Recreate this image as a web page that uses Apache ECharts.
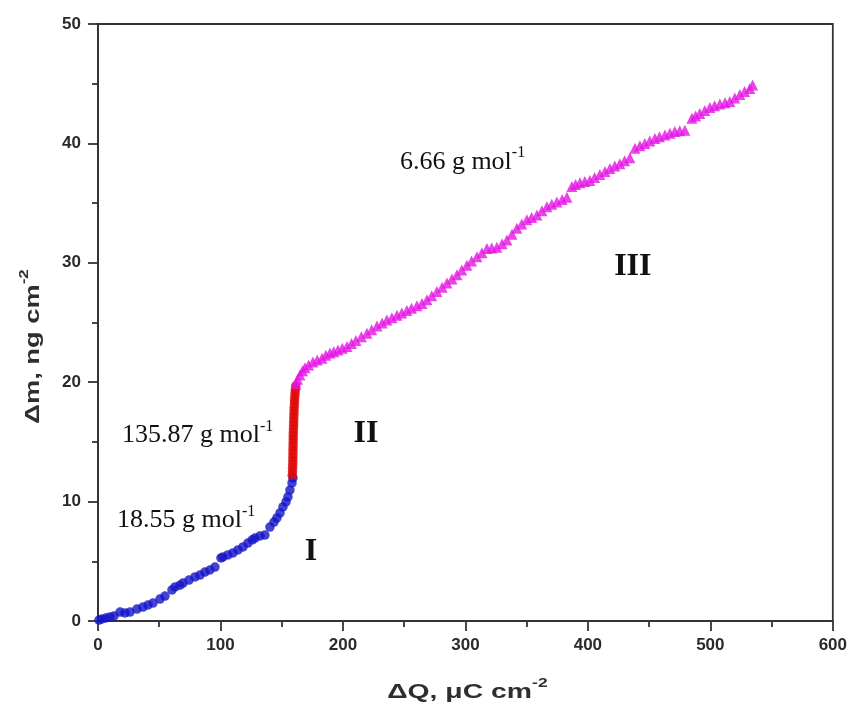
<!DOCTYPE html>
<html>
<head>
<meta charset="utf-8">
<script src="https://cdn.jsdelivr.net/npm/echarts@6/dist/echarts.min.js"></script>
<style>
  html, body { margin: 0; padding: 0; background: #fff; }
  #chart { width: 850px; height: 719px; }
</style>
</head>
<body>
<div id="chart"></div>
<script>
// Region I: slow mass growth (blue circles) — [ΔQ, Δm]
const regionI = [
  [0.8, 0.08], [3.3, 0.17], [6.5, 0.25], [9.8, 0.34], [13.1, 0.42], [18.0, 0.75],
  [22.0, 0.67], [26.1, 0.75], [31.8, 1.0], [36.7, 1.17], [40.8, 1.34], [44.9, 1.5],
  [50.6, 1.84], [54.7, 2.09], [60.4, 2.6], [62.9, 2.85], [66.9, 3.0], [69.4, 3.18],
  [74.3, 3.43], [79.2, 3.69], [83.3, 3.85], [87.3, 4.1], [91.4, 4.27], [95.5, 4.52],
  [100.4, 5.28], [102.0, 5.36], [106.1, 5.53], [110.2, 5.7], [114.3, 5.95], [118.4, 6.2],
  [122.4, 6.53], [126.0, 6.8], [128.2, 6.95], [132.2, 7.12], [136.3, 7.2], [140.4, 7.87],
  [143.7, 8.29], [146.1, 8.63], [148.6, 9.05], [151.0, 9.55], [153.5, 9.97], [155.1, 10.4],
  [156.7, 10.97], [158.4, 11.56], [159.2, 11.98]
];

// Region II: steep step (red circles)
const regionII = [
  [158.6, 12.2], [158.8, 12.5], [158.9, 12.8], [159.0, 13.1], [159.1, 13.4], [159.1, 13.7],
  [159.2, 14.0], [159.2, 14.3], [159.3, 14.6], [159.3, 14.9], [159.4, 15.2], [159.4, 15.5],
  [159.5, 15.8], [159.6, 16.1], [159.7, 16.4], [159.8, 16.7], [159.9, 17.0], [160.0, 17.3],
  [160.1, 17.6], [160.2, 17.9], [160.4, 18.2], [160.5, 18.5], [160.7, 18.8], [160.9, 19.1],
  [161.2, 19.4], [161.5, 19.7]
];

// Region III: linear growth (magenta triangles)
const regionIII = [
  [161.6, 19.85], [163.0, 20.25], [164.9, 20.6], [167.0, 20.95], [169.0, 21.2], [172.0, 21.45],
  [175.5, 21.7], [179.0, 21.85], [182.9, 22.0], [186.0, 22.25], [189.4, 22.45], [192.5, 22.55],
  [195.9, 22.7], [199.5, 22.85], [203.3, 23.0], [207.0, 23.25], [210.6, 23.5], [215.0, 23.8],
  [219.6, 24.1], [223.5, 24.4], [227.8, 24.7], [232.0, 24.95], [235.9, 25.2], [240.0, 25.4],
  [244.1, 25.6], [248.0, 25.8], [252.2, 26.0], [256.0, 26.2], [260.4, 26.4], [264.5, 26.6],
  [268.6, 26.9], [272.5, 27.25], [276.7, 27.6], [281.0, 27.95], [284.9, 28.3], [289.0, 28.65],
  [293.1, 29.0], [297.0, 29.4], [301.2, 29.8], [305.0, 30.15], [309.4, 30.5], [313.5, 30.85],
  [317.6, 31.2], [321.5, 31.25], [325.7, 31.3], [330.0, 31.6], [333.9, 31.9], [338.0, 32.4],
  [342.0, 32.9], [346.0, 33.25], [350.2, 33.6], [354.0, 33.8], [358.4, 34.0], [362.5, 34.35],
  [366.5, 34.7], [370.5, 34.9], [374.7, 35.1], [379.0, 35.3], [382.9, 35.5], [386.9, 36.4],
  [390.0, 36.55], [393.5, 36.7], [397.5, 36.8], [401.6, 36.9], [405.5, 37.15], [409.8, 37.4],
  [414.0, 37.65], [418.0, 37.9], [422.0, 38.1], [426.1, 38.3], [430.0, 38.55], [434.3, 38.8],
  [438.4, 39.6], [442.5, 39.8], [446.5, 40.0], [450.5, 40.2], [454.7, 40.4], [458.5, 40.55],
  [462.9, 40.7], [467.0, 40.85], [471.0, 41.0], [475.0, 41.05], [479.2, 41.1], [484.9, 42.1],
  [488.0, 42.3], [491.4, 42.5], [495.5, 42.75], [499.6, 43.0], [503.5, 43.15], [507.8, 43.3],
  [512.0, 43.4], [515.9, 43.5], [520.0, 43.8], [524.1, 44.1], [528.0, 44.35], [532.2, 44.6],
  [534.5, 44.9]
];

// Axis ticks
const xTicks = [0, 100, 200, 300, 400, 500, 600];
const yTicks = [0, 10, 20, 30, 40, 50];

// Molar-mass annotations: [text, superscript, ΔQ, Δm] (left-anchored)
const massNotes = [
  ['18.55 g mol', '-1', 15.5, 8.6],
  ['135.87 g mol', '-1', 19.6, 15.7],
  ['6.66 g mol', '-1', 246.5, 38.6]
];
// Region labels: [text, ΔQ, Δm] (centred)
const regionNotes = [
  ['I', 173.9, 5.8],
  ['II', 218.8, 15.7],
  ['III', 436.7, 29.7]
];

const chart = echarts.init(document.getElementById('chart'), null, { renderer: 'canvas' });

const axisColor = '#333';
const sans = 'Liberation Sans, Arial, sans-serif';
const serif = 'Liberation Serif, Times New Roman, serif';
const labelFont = { color: '#2a2a2a', fontFamily: sans, fontWeight: 'bold', fontSize: 17 };

const option = {
  backgroundColor: '#fff',
  animation: false,
  grid: {
    left: 98, right: 17, top: 24, bottom: 98,
    show: true, borderColor: axisColor, borderWidth: 1.8, backgroundColor: 'transparent'
  },
  xAxis: {
    type: 'value',
    min: xTicks[0], max: xTicks[xTicks.length - 1], interval: 100,
    axisLine: { show: true, onZero: false, lineStyle: { color: axisColor, width: 1.8 } },
    axisTick: { show: true, inside: false, length: 10, lineStyle: { color: axisColor, width: 1.8 } },
    minorTick: { show: true, splitNumber: 2, length: 6, lineStyle: { color: axisColor, width: 1.8 } },
    splitLine: { show: false },
    axisLabel: Object.assign({ margin: 16 }, labelFont)
  },
  yAxis: {
    type: 'value',
    min: yTicks[0], max: yTicks[yTicks.length - 1], interval: 10,
    axisLine: { show: true, onZero: false, lineStyle: { color: axisColor, width: 1.8 } },
    axisTick: { show: true, inside: false, length: 10, lineStyle: { color: axisColor, width: 1.8 } },
    minorTick: { show: true, splitNumber: 2, length: 6, lineStyle: { color: axisColor, width: 1.8 } },
    splitLine: { show: false },
    axisLabel: Object.assign({ margin: 17 }, labelFont)
  },
  series: [
    {
      name: 'I', type: 'scatter', data: regionI,
      symbol: 'circle', symbolSize: 9.5,
      itemStyle: { color: '#1414c8' }
    },
    {
      name: 'II', type: 'scatter', data: regionII,
      symbol: 'circle', symbolSize: 9.5,
      itemStyle: { color: '#e00808' }
    },
    {
      name: 'III', type: 'scatter', data: regionIII,
      symbol: 'triangle', symbolSize: 11,
      itemStyle: { color: '#e414e4' }
    }
  ]
};

chart.setOption(option);

const px = (q, m) => chart.convertToPixel({ gridIndex: 0 }, [q, m]);

const titleRich = {
  n: { fontFamily: sans, fontWeight: 'bold', fontSize: 21, fill: '#2e2e2e', lineHeight: 26, verticalAlign: 'bottom' },
  s: { fontFamily: sans, fontWeight: 'bold', fontSize: 13, fill: '#2e2e2e', lineHeight: 26, verticalAlign: 'top' }
};

const graphics = [];

// Axis titles, placed relative to the plotting area
const xMid = px(300, 0);
graphics.push({
  type: 'text', x: xMid[0] + 2, y: xMid[1] + 69, scaleX: 1.35,
  style: { text: '{n|ΔQ, μC cm}{s|-2}', align: 'center', verticalAlign: 'middle', rich: titleRich }
});
const yMid = px(0, 25);
graphics.push({
  type: 'text', x: yMid[0] - 67, y: yMid[1] + 24, rotation: Math.PI / 2, scaleX: 1.3,
  style: { text: '{n|Δm, ng cm}{s|-2}', align: 'center', verticalAlign: 'middle', rich: titleRich }
});

massNotes.forEach(([txt, sup, q, m]) => {
  const p = px(q, m);
  graphics.push({
    type: 'text', x: p[0], y: p[1], z: 10,
    style: {
      text: '{t|' + txt + '}{s|' + sup + '}',
      verticalAlign: 'middle',
      rich: {
        t: { fontFamily: serif, fontSize: 26, fill: '#111', lineHeight: 30, verticalAlign: 'bottom' },
        s: { fontFamily: serif, fontSize: 16, fill: '#111', lineHeight: 30, verticalAlign: 'top' }
      }
    }
  });
});

regionNotes.forEach(([txt, q, m]) => {
  const p = px(q, m);
  graphics.push({
    type: 'text', x: p[0], y: p[1], z: 10,
    style: {
      text: txt, align: 'center', verticalAlign: 'middle',
      fontFamily: serif, fontSize: 32, fontWeight: 'bold', fill: '#111'
    }
  });
});

chart.setOption({ graphic: graphics });
</script>
</body>
</html>
